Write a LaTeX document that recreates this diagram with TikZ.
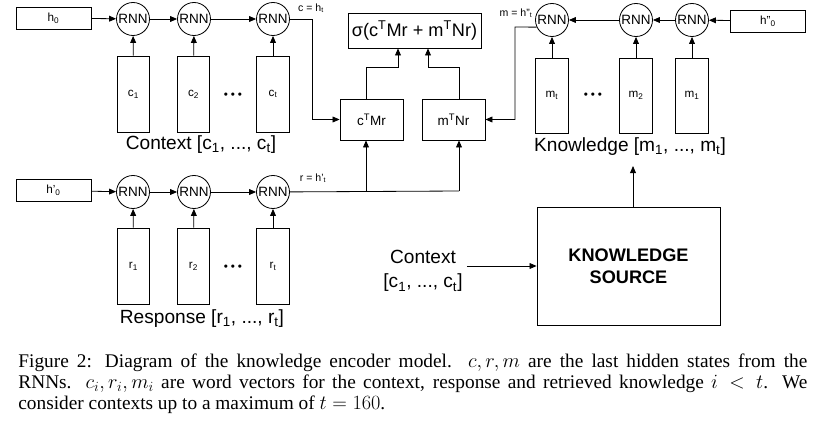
\documentclass[tikz,border=0pt]{standalone}
\usepackage{fontspec}
\setmainfont{Liberation Sans}
\newfontfamily\captionserif{Liberation Serif}
\usetikzlibrary{arrows.meta}

\begin{document}
\begin{tikzpicture}[x=0.03cm,y=-0.03cm,line width=0.7pt]
  \tikzstyle{rnn}    = [circle,draw,minimum size=0.99cm,inner sep=0pt,font=\fontsize{11.5}{12}\selectfont]
  \tikzstyle{state}  = [rectangle,draw,minimum width=2.25cm,minimum height=0.66cm,inner sep=0pt,font=\fontsize{10}{12}\selectfont]
  \tikzstyle{word}   = [rectangle,draw,minimum width=0.98cm,minimum height=2.28cm,inner sep=0pt,font=\fontsize{10}{12}\selectfont]
  \tikzstyle{score}  = [rectangle,draw,minimum width=1.89cm,minimum height=1.23cm,inner sep=0pt,font=\fontsize{11.5}{13}\selectfont]
  \tikzstyle{seqlab} = [inner sep=1pt,font=\fontsize{16.3}{19}\selectfont]
  \tikzstyle{hlab}   = [inner sep=0pt,font=\fontsize{9}{10}\selectfont]
  \tikzstyle{dots}   = [inner sep=0pt,font=\fontsize{10}{10}\selectfont]
  \tikzstyle{sec}    = [-{Triangle[length=6pt,width=5pt]}]
  \useasboundingbox (0,0) rectangle (820,422);
  % context encoder
  \path ( 53.5, 18) node[state](h0) {h\textsubscript{0}};
  \path (133, 19) node[rnn](rc1) {RNN};
  \path (194, 19) node[rnn](rc2) {RNN};
  \path (273, 19) node[rnn](rc3) {RNN};
  \path (133.5, 94) node[word](c1) {c\textsubscript{1}};
  \path (193.5, 94) node[word](c2) {c\textsubscript{2}};
  \path (273, 94) node[word](ct) {c\textsubscript{t}};
  \path (233, 96) node[dots](cdots) {\textbullet\hspace{2.5pt}\textbullet\hspace{2.5pt}\textbullet};
  \path (201, 145) node[seqlab](clab) {Context [c\textsubscript{1}, ..., c\textsubscript{t}]};
  \path (311, 8) node[hlab](cout) {c = h\textsubscript{t}};
  \coordinate (cbend) at (312, 19);
  % response encoder
  \path ( 53.5, 190.5) node[state](hp0) {h'\textsubscript{0}};
  \path (133, 192) node[rnn](rr1) {RNN};
  \path (194, 192) node[rnn](rr2) {RNN};
  \path (273, 192) node[rnn](rr3) {RNN};
  \path (133.5, 266) node[word](r1) {r\textsubscript{1}};
  \path (193.5, 266) node[word](r2) {r\textsubscript{2}};
  \path (273, 266) node[word](rt) {r\textsubscript{t}};
  \path (233, 268) node[dots](rdots) {\textbullet\hspace{2.5pt}\textbullet\hspace{2.5pt}\textbullet};
  \path (202, 319) node[seqlab](rlab) {Response [r\textsubscript{1}, ..., r\textsubscript{t}]};
  \path (313, 178) node[hlab](rout) {r = h'\textsubscript{t}};
  \coordinate (rjoin) at (366, 191);
  \coordinate (rbend) at (459, 191);
  % scores
  \path (414.5, 30.5) node[rectangle,draw,minimum width=3.99cm,minimum height=1.05cm,inner sep=0pt,font=\fontsize{15.5}{17}\selectfont](sig)
    {σ(c\textsuperscript{T}Mr + m\textsuperscript{T}Nr)};
  \path (371.5, 119.5) node[score](cMr) {c\textsuperscript{T}Mr};
  \path (453.5, 119.5) node[score](mNr) {m\textsuperscript{T}Nr};
  \coordinate (sL) at (398, 67);
  \coordinate (sR) at (428, 67);
  % knowledge encoder
  \path (768, 21) node[state](hpp0) {h''\textsubscript{0}};
  \path (692, 20) node[rnn](rm1) {RNN};
  \path (636, 20) node[rnn](rm2) {RNN};
  \path (552, 20) node[rnn](rmt) {RNN};
  \path (692, 95.5) node[word,minimum height=2.25cm](m1) {m\textsubscript{1}};
  \path (636, 95.5) node[word,minimum height=2.25cm](m2) {m\textsubscript{2}};
  \path (552, 95.5) node[word,minimum height=2.25cm](mt) {m\textsubscript{t}};
  \path (593, 96) node[dots](mdots) {\textbullet\hspace{2.5pt}\textbullet\hspace{2.5pt}\textbullet};
  \path (630, 147) node[seqlab](mlab) {Knowledge [m\textsubscript{1}, ..., m\textsubscript{t}]};
  \path (516, 13) node[hlab](mout) {m = h''\textsubscript{t}};
  \coordinate (mbend) at (515, 27);
  % knowledge source
  \path (628.5, 266) node[rectangle,draw,minimum width=5.49cm,minimum height=3.54cm,align=center,font=\fontsize{15.5}{19}\selectfont\bfseries](ks)
    {KNOWLEDGE\\SOURCE};
  \path (423, 271) node[align=center,font=\fontsize{16.3}{21}\selectfont](ctx) {Context\\{}[c\textsubscript{1}, ..., c\textsubscript{t}]};
  \coordinate (kin) at (633, 166);
  % caption
  \path (18, 353) node[anchor=north west,text width=23.67cm,align=justify,inner sep=0pt,
    font=\captionserif\fontsize{16.5}{18}\selectfont](cap)
    {Figure 2: Diagram of the knowledge encoder model. $c, r, m$ are the last hidden states from the\linebreak
     RNNs. $c_i, r_i, m_i$ are word vectors for the context, response and retrieved knowledge $i < t$. We\linebreak
     consider contexts up to a maximum of $t = 160$.};
  % connectors
  \draw[sec] (h0) -- (rc1);
  \draw[sec] (rc1) -- (rc2);
  \draw[sec] (rc2) -- (rc3);
  \draw[sec] (c1) -- (rc1);
  \draw[sec] (c2) -- (rc2);
  \draw[sec] (ct) -- (rc3);
  \draw[sec] (rc3) -- (cbend) |- (cMr.west);
  \draw[sec] (hp0) -- (rr1);
  \draw[sec] (rr1) -- (rr2);
  \draw[sec] (rr2) -- (rr3);
  \draw[sec] (r1) -- (rr1);
  \draw[sec] (r2) -- (rr2);
  \draw[sec] (rt) -- (rr3);
  \draw (rr3) -- (rbend);
  \draw[sec] (rjoin) -- (rjoin |- cMr.south);
  \draw[sec] (rbend) -- (rbend |- mNr.south);
  \draw[sec] (rjoin |- cMr.north) |- (sL) -- (sL |- sig.south);
  \draw[sec] (rbend |- mNr.north) |- (sR) -- (sR |- sig.south);
  \draw[sec] (hpp0) -- (rm1);
  \draw[sec] (rm1) -- (rm2);
  \draw[sec] (rm2) -- (rmt);
  \draw[sec] (m1) -- (rm1);
  \draw[sec] (m2) -- (rm2);
  \draw[sec] (mt) -- (rmt);
  \draw[sec] (rmt.205) -- (mbend) |- (mNr.east);
  \draw[sec] (ks.north -| kin) -- (kin);
  \draw[sec] (ctx.east |- ks.west) -- (ks.west);
\end{tikzpicture}
\end{document}
